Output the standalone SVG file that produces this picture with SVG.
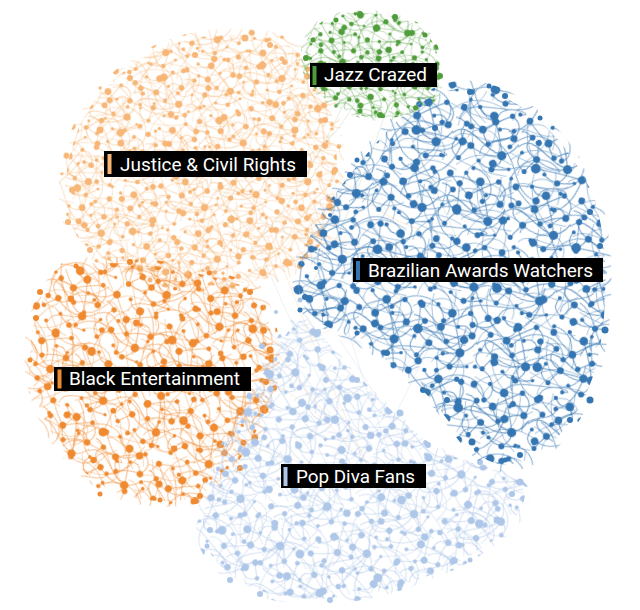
<svg xmlns="http://www.w3.org/2000/svg" width="640" height="610" viewBox="0 0 640 610">
<style>
.lbl text{font-family:Roboto,"Liberation Sans",sans-serif;font-size:18px;fill:#fff}
.lbl .bg{fill:#000}
.haze path{fill:none;stroke-width:.8;stroke-linecap:round}
</style>
<defs>
<g id="tA">
<g fill="currentColor">
<circle cx="5" cy="7" r="2.8"/><circle cx="18" cy="4" r="1.8"/><circle cx="31" cy="9" r="3.6"/><circle cx="46" cy="6" r="2.2"/>
<circle cx="10" cy="20" r="2.4"/><circle cx="24" cy="22" r="3.2"/><circle cx="38" cy="19" r="1.7"/><circle cx="51" cy="24" r="2.9"/>
<circle cx="4" cy="34" r="1.6"/><circle cx="17" cy="37" r="2.9"/><circle cx="31" cy="33" r="2.3"/><circle cx="44" cy="40" r="3.8"/>
<circle cx="9" cy="49" r="2.1"/><circle cx="26" cy="48" r="1.7"/><circle cx="38" cy="53" r="2.5"/><circle cx="52" cy="50" r="1.5"/>
</g>
<g fill="none" stroke="currentColor" stroke-width=".85" stroke-opacity=".7">
<path d="M5 7Q14 16 24 22M24 22Q36 12 46 6M31 9Q41 28 44 40M10 20Q1 30 17 37M17 37Q30 45 44 40M31 33Q42 24 51 24M18 4Q23 12 31 9M9 49Q13 42 17 37M26 48Q34 56 52 50M38 19Q46 14 51 24M4 34Q-2 44 9 49M24 22Q26 28 31 33M38 53Q46 46 44 40M46 6Q58 12 51 24M-4 18Q2 14 10 20M0 30C15 10 40 60 56 28"/>
</g>
</g>
<g id="tB">
<g fill="currentColor">
<circle cx="8" cy="12" r="3.2"/><circle cx="27" cy="6" r="2"/><circle cx="50" cy="14" r="2.6"/><circle cx="66" cy="8" r="1.8"/>
<circle cx="16" cy="30" r="1.6"/><circle cx="38" cy="32" r="4"/><circle cx="60" cy="36" r="2.2"/><circle cx="6" cy="50" r="2.5"/>
<circle cx="26" cy="56" r="3"/><circle cx="47" cy="60" r="1.7"/><circle cx="68" cy="58" r="3.4"/><circle cx="36" cy="70" r="2"/>
</g>
<g fill="none" stroke="currentColor" stroke-width=".85" stroke-opacity=".6">
<path d="M8 12C20 30 30 20 38 32M27 6C50 -2 70 20 60 36M0 40C20 20 50 80 74 50M6 50Q16 62 26 56M38 32Q56 46 68 58M16 30Q10 40 6 50M50 14Q44 24 38 32M26 56C40 40 60 70 47 60M36 70Q50 74 68 58M66 8C80 20 70 40 60 36M2 74C10 60 30 80 36 70M20 0C30 20 10 40 26 56M10 40A22 18 0 0 1 54 44"/>
</g>
</g>
<g id="tC" fill="none" stroke="currentColor" stroke-width=".9" stroke-opacity=".45">
<path d="M0 10C15 0 30 25 50 15M5 50C10 30 35 40 40 0M0 35Q25 20 50 40M20 0Q10 25 30 50M12 12A14 14 0 1 1 38 30M-5 25Q20 45 45 50"/>
</g>
<path id="sJazz" d="M330 18C355 8 410 12 428 35C442 55 445 85 432 100C415 118 380 122 360 115C335 108 312 95 306 70C300 45 310 25 330 18Z"/>
<path id="sJust" d="M240 35C290 35 320 60 330 110C342 150 338 210 320 245C300 275 250 288 200 285C150 282 105 268 80 240C60 215 62 170 78 130C95 90 130 60 170 45C195 36 220 34 240 35Z"/>
<path id="sBlack" d="M70 265C130 258 200 270 255 290C275 320 280 370 265 410C250 450 230 480 195 498C160 505 120 500 95 480C60 455 40 420 32 380C26 340 35 295 70 265Z"/>
<path id="sBlue" d="M465 88C520 90 570 140 595 200C610 250 608 320 595 370C580 420 545 462 505 465C470 462 455 425 430 398C405 372 370 345 335 330C305 318 295 300 300 270C305 235 325 205 350 175C385 130 420 90 465 88Z"/>
<path id="sPop" d="M305 318C330 340 345 370 375 395C400 418 420 440 450 455C480 468 522 470 525 495C522 525 480 555 430 575C380 595 330 604 280 596C240 588 205 562 203 530C202 490 225 440 250 400C268 365 285 325 305 318Z"/>
<mask id="mJust"><use href="#sJust" fill="#fff" transform="translate(-10 -8) scale(1.05)"/><use href="#sJust" fill="#000"/></mask>
<mask id="mBlack"><use href="#sBlack" fill="#fff" transform="translate(-7.5 -19.25) scale(1.05)"/><use href="#sBlack" fill="#000"/></mask>
<mask id="mPop"><use href="#sPop" fill="#fff" transform="translate(-14.6 -18.8) scale(1.04)"/><use href="#sPop" fill="#000"/></mask>
<mask id="mBlue"><use href="#sBlue" fill="#fff" transform="translate(-18.2 -11.2) scale(1.04)"/><use href="#sBlue" fill="#000"/></mask>
<mask id="mJazz"><use href="#sJazz" fill="#fff" transform="translate(-18.6 -3.25) scale(1.05)"/><use href="#sJazz" fill="#000"/></mask>
<pattern id="pAjazz" width="56" height="56" patternUnits="userSpaceOnUse" patternTransform="rotate(21) scale(.9)" color="#4e9d3a"><use href="#tA"/></pattern>
<pattern id="pBjazz" width="74" height="74" patternUnits="userSpaceOnUse" patternTransform="rotate(-33) scale(.9)" color="#4e9d3a"><use href="#tB"/></pattern>
<pattern id="pCjazz" width="50" height="50" patternUnits="userSpaceOnUse" patternTransform="rotate(10) scale(.8)" color="#4e9d3a"><use href="#tC"/></pattern>
<pattern id="pAjust" width="56" height="56" patternUnits="userSpaceOnUse" patternTransform="rotate(-14) scale(.95)" color="#f7b676"><use href="#tA"/></pattern>
<pattern id="pBjust" width="74" height="74" patternUnits="userSpaceOnUse" patternTransform="rotate(38) scale(.95)" color="#f7b676"><use href="#tB"/></pattern>
<pattern id="pCjust" width="50" height="50" patternUnits="userSpaceOnUse" patternTransform="rotate(-20) scale(.9)" color="#f7b676"><use href="#tC"/></pattern>
<pattern id="pAblack" width="56" height="56" patternUnits="userSpaceOnUse" patternTransform="rotate(31) scale(1.1)" color="#f08a30"><use href="#tA"/></pattern>
<pattern id="pBblack" width="74" height="74" patternUnits="userSpaceOnUse" patternTransform="rotate(-8) scale(1.1)" color="#f08a30"><use href="#tB"/></pattern>
<pattern id="pCblack" width="50" height="50" patternUnits="userSpaceOnUse" patternTransform="rotate(50)" color="#f08a30"><use href="#tC"/></pattern>
<pattern id="pAblue" width="56" height="56" patternUnits="userSpaceOnUse" patternTransform="rotate(12) scale(1.2)" color="#3475b2"><use href="#tA"/></pattern>
<pattern id="pBblue" width="74" height="74" patternUnits="userSpaceOnUse" patternTransform="rotate(-27) scale(1.2)" color="#3475b2"><use href="#tB"/></pattern>
<pattern id="pCblue" width="50" height="50" patternUnits="userSpaceOnUse" patternTransform="rotate(-5) scale(1.1)" color="#3475b2"><use href="#tC"/></pattern>
<pattern id="pApop" width="56" height="56" patternUnits="userSpaceOnUse" patternTransform="rotate(-40) scale(1.1)" color="#aec7e8"><use href="#tA"/></pattern>
<pattern id="pBpop" width="74" height="74" patternUnits="userSpaceOnUse" patternTransform="rotate(17) scale(1.1)" color="#aec7e8"><use href="#tB"/></pattern>
<pattern id="pCpop" width="50" height="50" patternUnits="userSpaceOnUse" patternTransform="rotate(30)" color="#aec7e8"><use href="#tC"/></pattern>
</defs>
<rect width="640" height="610" fill="#fff"/>
<g id="connectors" class="haze">
<path stroke="#f7b676" stroke-opacity=".3" d="M200 160Q300 250 470 270M200 160Q220 300 150 380M230 120Q300 220 400 300M260 200Q290 300 370 470M180 240Q260 330 330 420M290 90Q330 200 420 230"/>
<path stroke="#4e9d3a" stroke-opacity=".18" d="M372 60Q330 200 200 160M372 60Q420 150 470 270M350 90Q300 200 250 250M390 100Q340 250 300 300M330 70Q260 140 220 200"/>
<path stroke="#aec7e8" stroke-opacity=".3" d="M370 470Q300 350 260 250M340 430Q280 330 200 260M400 480Q330 300 320 200M300 420Q250 350 230 300M420 470Q380 400 340 340"/>
<path stroke="#f08a30" stroke-opacity=".15" d="M150 380Q260 330 370 470M150 380Q250 470 370 470M200 330Q260 280 300 230M230 400Q280 350 330 330"/>
<path stroke="#3475b2" stroke-opacity=".12" d="M470 270Q400 400 370 470M420 260Q330 260 260 220M380 300Q320 330 280 350"/>
</g>
<g id="node-justice">
<rect width="640" height="610" fill="url(#pBjust)" mask="url(#mJust)"/>
<use href="#sJust" fill="url(#pCjust)"/>
<use href="#sJust" fill="url(#pBjust)"/>
<use href="#sJust" fill="url(#pAjust)"/>
<g fill="#f7b676">
<circle cx="245" cy="38" r="3.5"/><circle cx="195" cy="55" r="3"/><circle cx="130" cy="78" r="3"/><circle cx="100" cy="130" r="3.5"/><circle cx="72" cy="190" r="3"/><circle cx="68" cy="222" r="3"/><circle cx="90" cy="250" r="3"/><circle cx="310" cy="242" r="3"/><circle cx="335" cy="170" r="3"/><circle cx="332" cy="200" r="3"/><circle cx="150" cy="280" r="2.5"/><circle cx="300" cy="266" r="3"/><circle cx="270" cy="45" r="3"/><circle cx="325" cy="120" r="3"/>
</g>
<g class="lbl"><rect class="bg" x="104" y="151" width="203" height="26"/><rect x="107.5" y="154" width="4" height="20" fill="#f7b676"/><text x="120" y="170.5" textLength="176" lengthAdjust="spacingAndGlyphs">Justice &amp; Civil Rights</text></g>
</g>
<g id="node-black">
<rect width="640" height="610" fill="url(#pBblack)" mask="url(#mBlack)"/>
<use href="#sBlack" fill="url(#pCblack)"/>
<use href="#sBlack" fill="url(#pBblack)"/>
<use href="#sBlack" fill="url(#pAblack)"/>
<g fill="#f08a30">
<circle cx="40" cy="292" r="3"/><circle cx="30" cy="360" r="2.5"/><circle cx="36" cy="318" r="3"/><circle cx="100" cy="494" r="2.5"/><circle cx="200" cy="496" r="3"/><circle cx="270" cy="350" r="3.5"/><circle cx="266" cy="382" r="3"/><circle cx="250" cy="292" r="3"/><circle cx="76" cy="266" r="2.5"/><circle cx="240" cy="468" r="3"/><circle cx="130" cy="262" r="3"/><circle cx="160" cy="500" r="2.5"/>
</g>
<g class="lbl"><rect class="bg" x="54" y="367" width="197" height="24"/><rect x="57.5" y="369.5" width="4" height="19" fill="#f08a30"/><text x="69" y="385" textLength="171" lengthAdjust="spacingAndGlyphs">Black Entertainment</text></g>
</g>
<g id="node-pop">
<rect width="640" height="610" fill="url(#pBpop)" mask="url(#mPop)"/>
<use href="#sPop" fill="url(#pCpop)"/>
<use href="#sPop" fill="url(#pBpop)"/>
<use href="#sPop" fill="url(#pApop)"/>
<g fill="#aec7e8">
<circle cx="210" cy="530" r="3"/><circle cx="207" cy="546" r="2.5"/><circle cx="230" cy="580" r="3"/><circle cx="260" cy="594" r="3"/><circle cx="330" cy="600" r="3"/><circle cx="400" cy="585" r="3"/><circle cx="470" cy="560" r="2.5"/><circle cx="520" cy="482" r="3.5"/><circle cx="512" cy="494" r="3"/><circle cx="240" cy="450" r="2.5"/><circle cx="318" cy="332" r="3"/><circle cx="300" cy="300" r="2.5"/><circle cx="276" cy="312" r="2"/><circle cx="262" cy="346" r="3"/><circle cx="497" cy="520" r="3.5"/><circle cx="357" cy="380" r="3"/><circle cx="400" cy="413" r="3.5"/><circle cx="428" cy="445" r="3"/><circle cx="480" cy="462" r="3"/>
</g>
<g class="lbl"><rect class="bg" x="281" y="464" width="145" height="24"/><rect x="283.5" y="467" width="4" height="19" fill="#aec7e8"/><text x="296" y="482.5" textLength="119" lengthAdjust="spacingAndGlyphs">Pop Diva Fans</text></g>
</g>
<g id="node-brazilian">
<rect width="640" height="610" fill="url(#pBblue)" mask="url(#mBlue)"/>
<use href="#sBlue" fill="url(#pCblue)"/>
<use href="#sBlue" fill="url(#pBblue)"/>
<use href="#sBlue" fill="url(#pAblue)"/>
<g fill="#3475b2">
<circle cx="470" cy="92" r="3"/><circle cx="489" cy="86" r="2.5"/><circle cx="505" cy="96" r="3"/><circle cx="540" cy="118" r="2.5"/><circle cx="590" cy="212" r="3"/><circle cx="600" cy="246" r="3"/><circle cx="605" cy="330" r="3.5"/><circle cx="590" cy="400" r="3.5"/><circle cx="570" cy="420" r="3"/><circle cx="520" cy="455" r="3"/><circle cx="505" cy="460" r="2.5"/><circle cx="472" cy="442" r="3.5"/><circle cx="447" cy="400" r="3"/><circle cx="423" cy="390" r="3"/><circle cx="387" cy="353" r="3"/><circle cx="357" cy="333" r="2.5"/><circle cx="300" cy="310" r="2.5"/><circle cx="305" cy="297" r="3"/><circle cx="330" cy="215" r="2"/><circle cx="350" cy="175" r="3"/><circle cx="357" cy="160" r="2.5"/><circle cx="316" cy="268" r="2"/><circle cx="435" cy="128" r="3"/>
</g>
<g class="lbl"><rect class="bg" x="353" y="258" width="250" height="24"/><rect x="356" y="261" width="4" height="19" fill="#3475b2"/><text x="368" y="276.5" textLength="225" lengthAdjust="spacingAndGlyphs">Brazilian Awards Watchers</text></g>
</g>
<g id="node-jazz">
<rect width="640" height="610" fill="url(#pBjazz)" mask="url(#mJazz)"/>
<use href="#sJazz" fill="url(#pCjazz)"/>
<use href="#sJazz" fill="url(#pBjazz)"/>
<use href="#sJazz" fill="url(#pAjazz)"/>
<g fill="#4e9d3a">
<circle cx="306" cy="58" r="3"/><circle cx="313" cy="40" r="2.5"/><circle cx="440" cy="76" r="3"/><circle cx="437" cy="64" r="2.5"/><circle cx="380" cy="115" r="3"/><circle cx="360" cy="111" r="2.5"/><circle cx="336" cy="20" r="2.5"/><circle cx="360" cy="14" r="3"/><circle cx="395" cy="17" r="3"/><circle cx="425" cy="35" r="2.5"/>
</g>
<g class="lbl"><rect class="bg" x="310" y="63" width="127" height="24"/><rect x="312.5" y="66" width="4" height="19" fill="#4e9d3a"/><text x="324" y="81" textLength="103" lengthAdjust="spacingAndGlyphs">Jazz Crazed</text></g>
</g>
</svg>
